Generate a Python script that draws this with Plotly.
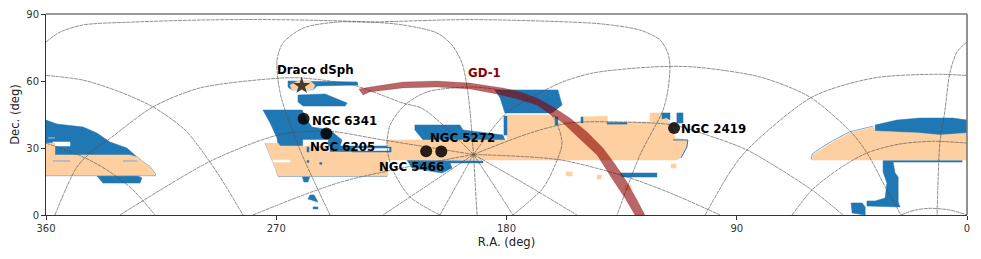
import plotly.graph_objects as go

# ---------- footprint: blue (lower layer)
b_left_ra = [360, 355.7, 345.5, 340.1, 335, 328.4, 324.4, 360]
b_left_dec = [42.5, 40.7, 39.4, 36.7, 32.7, 30, 26, 26]
b_low_ra = [340.1, 337.7, 323.3, 322.5, 324]
b_low_dec = [17.5, 14.3, 14.3, 16.6, 17.5]
b_center_ra = [275.2, 259.9, 258, 256, 249, 244.3, 245, 269.3, 269.7, 272.4]
b_center_dec = [47, 47, 42.5, 39.4, 38.1, 33.6, 30.9, 30.9, 34.5, 41.2]
b_tail_ra = [249, 226.7, 226.7, 249]
b_tail_dec = [30.9, 30.9, 28.2, 28.2]
b_m3_ra = [215.8, 198.2, 197, 181.4, 180.6, 212.6, 215.8]
b_m3_dec = [40.3, 40.3, 38.1, 35.8, 33.6, 33.6, 38.1]
b_5466_ra = [218.9, 189.2, 189.2, 202.1, 201.3, 205.2, 216.9]
b_5466_dec = [24.6, 24.2, 23.3, 23.3, 21, 18.8, 21]
b_gd1_ra = [184.5, 159.9, 158.3, 162.2, 180.6, 182.5]
b_gd1_dec = [56, 56, 49.3, 45.7, 45.7, 52.4]
b_strip_ra = [135.6, 121.2, 121.2, 134.8]
b_strip_dec = [18.8, 18.8, 17, 17]
b_east_ra = [35.9, 27.4, 18.4, 5.5, 0, 0, 35.9]
b_east_dec = [40.3, 42.5, 43.4, 43.4, 42.5, 35.8, 35.8]
b_thin_ra = [32.8, 1.9, 1.9, 32.8]
b_thin_dec = [24.4, 24.4, 23.7, 23.7]
b_vert_ra = [32.8, 28.9, 28.1, 26.9, 26.9, 26.2, 39.1, 39.1, 35.9, 32, 31.3, 32.8]
b_vert_dec = [23.7, 23.7, 18.8, 17, 5.8, 3.6, 4, 6.3, 6.3, 7.6, 14.3, 19.3]
b_foot_ra = [45.3, 41, 39.8, 39.8, 44.9]
b_foot_dec = [5.4, 5.4, 3.6, 0, 0.9]
b_draco_ra = [265.4, 238.4, 238, 254.1, 255.6, 263.8, 265.4]
b_draco_dec = [60, 59.6, 58.2, 57.8, 56, 56, 57.3]
b_blob2_ra = [261.5, 250.9, 242.3, 243.1, 259.5, 261.5]
b_blob2_dec = [53.7, 54.2, 50.1, 48.8, 48.8, 50.6]
b_under_ra = [259.9, 256.8, 257.6, 259.2]
b_under_dec = [17.5, 17.5, 14.8, 14.8]
b_spot1_ra = [256.8, 255.2, 253.7, 257.6]
b_spot1_dec = [9, 9, 5.8, 7.2]
b_spot2_ra = [255.6, 253.7, 253.7, 255.6]
b_spot2_dec = [3.6, 3.6, 2.7, 2.7]

# ---------- holes in the blue
w_left_ra = [357.3, 350.6, 350.6, 357.3]
w_left_dec = [32.7, 32.7, 30.9, 30.9]
w_center_ra = [259.5, 249.8, 249.8, 259.5]
w_center_dec = [33.6, 33.6, 30.9, 30.9]

# ---------- footprint: orange (upper layer)
o_left_ra = [360, 356.5, 356.5, 327.2, 324.4, 322.1, 319.3, 317.4, 317.4, 360]
o_left_dec = [32.2, 32.2, 26.9, 26.9, 26, 23.7, 21.5, 18.3, 17.9, 17.9]
o_main_ra = [274.4, 272.4, 270.5, 269.3, 226.7, 226.7, 113.4, 112.2, 109.5, 109.5, 114.1, 115.3,
             116.9, 118.8, 123.9, 123.9, 140.3, 140.7, 150.5, 151.3, 160.3, 161, 179.8, 179.8,
             226.7, 226.7, 250.2, 250.2, 268.5, 269.3]
o_main_dec = [32.2, 26.9, 21.5, 17.5, 17.5, 24.6, 24.6, 25.5, 30.4, 33.6, 34.5, 40.3,
              42.5, 45.7, 45.7, 41.6, 41.6, 44.3, 43.9, 41.6, 41.6, 44.8, 44.8, 33.6,
              33.6, 28.2, 28.2, 30.9, 30.9, 32.2]
o_east_ra = [60.6, 60.2, 56.7, 52.4, 45.7, 36.7, 35.9, 18.4, 10.6, 0, 0]
o_east_dec = [24.6, 26.9, 29.6, 32.7, 36.7, 39.4, 37.6, 36.7, 35.8, 36.7, 24.6]
o_draco_ra = [263.8, 255.6, 254.9, 256.8, 261.5, 264.6]
o_draco_dec = [56, 56, 58.2, 60, 60, 58.2]
o_dot1_ra = [156.7, 154.3, 154.3, 156.7]
o_dot1_dec = [19.3, 19.3, 17.5, 17.5]
o_dot2_ra = [144.6, 143, 143, 144.6]
o_dot2_dec = [17.9, 17.9, 16.1, 16.1]
o_dot3_ra = [115.7, 113.7, 113.7, 115.7]
o_dot3_dec = [22.8, 22.8, 21, 21]
o_dot4_ra = [133.7, 131.3, 131.3, 133.7]
o_dot4_dec = [13.4, 13.4, 11.2, 11.2]

# ---------- blue details on top of the orange
d_slit_ra = [240.4, 225.1, 225.1, 240.4]
d_slit_dec = [30.4, 30.4, 28.2, 28.2]
d_slit_in_ra = [239.6, 225.9, 225.9, 239.6]
d_slit_in_dec = [29.8, 29.8, 28.9, 28.9]
d1_ra = [181, 179.8, 179.8, 181]
d1_dec = [44.3, 44.3, 35.8, 35.8]
d2_ra = [161, 159.9, 159.9, 161]
d2_dec = [43.9, 43.9, 40.3, 40.3]
d3_ra = [150.9, 150.1, 150.1, 150.9]
d3_dec = [43.9, 43.9, 41.2, 41.2]
d4_ra = [140.7, 132.9, 132.9, 140.7]
d4_dec = [41.4, 41.4, 40.7, 40.7]
d5_ra = [119.2, 116.1, 116.1, 117.5, 119.2]
d5_dec = [45.7, 45.7, 42.5, 43.5, 43]
d6_ra = [113.4, 111, 111, 113.4]
d6_dec = [45.7, 45.7, 41.2, 41.2]
d7_ra = [258, 257.2, 257.2, 258]
d7_dec = [30.4, 30.4, 28.2, 28.2]
d8_ra = [258, 257.2, 257.2, 258]
d8_dec = [24.4, 24.4, 23.6, 23.6]
d9_ra = [253, 252.2, 252.2, 253]
d9_dec = [23.5, 23.5, 22.7, 22.7]

# ---------- white gaps and pale streaks inside the footprint
g_slit_ra = [271.3, 264.6, 264.6, 271.3]
g_slit_dec = [24.6, 24.6, 23.7, 23.7]
s1_ra = [357.3, 350.6]
s1_dec = [24.2, 24.2]
s2_ra = [329.9, 324.4]
s2_dec = [24.2, 24.2]
s3_ra = [359.2, 356.5]
s3_dec = [34.5, 34.5]

# ---------- thin edges
e_main_ra = [274.4, 272.4, 270.5, 269.3, 226.7, 226.7]
e_main_dec = [32.2, 26.9, 21.5, 17.3, 17.3, 24]
e_left_ra = [360, 317.2]
e_left_dec = [17.6, 17.6]
e_lefttop_ra = [324.4, 322.1, 319.3, 317.2, 317.4]
e_lefttop_dec = [26.2, 23.9, 21.7, 18.5, 17.6]
e_right_ra = [114.9, 109.1, 109.5, 111.8]
e_right_dec = [33.6, 33.6, 30.4, 25.5]
e_east_ra = [60.9, 60.5, 57, 52.6, 45.9, 36.7]
e_east_dec = [24.8, 27.3, 30.1, 33.2, 37.2, 39.8]

# ---------- GD-1 stream outline
gd1_ra = [237.7, 233.4, 220.5, 207.2, 194.3, 181.4, 174.7, 168.1, 161.8, 155.2, 148.5, 142.3,
          137.6, 132.9, 129.4, 125.9,
          129.8, 133.7, 138.4, 141.5, 144.6, 151.3, 157.9, 163, 168.1, 175.9, 183.7, 194.3,
          207.2, 220.5, 233.4, 236.1]
gd1_dec = [56.4, 57.3, 59.6, 60, 59.1, 56.9, 55.1, 52.4, 48.4, 43.4, 37.2, 30,
           22.8, 14.8, 7.6, 0,
           0, 7.6, 15.7, 21.5, 26.9, 34, 41.2, 45.2, 49.3, 52, 54.2, 56.4,
           57.3, 56.9, 55.1, 53.7]

# ---------- Galactic graticule
m1a_ra = [360, 354.5, 345.5, 326, 299.8, 272.4, 233.4, 220.5, 207.2, 201.3, 197.4, 195.4, 194.3, 192.9]
m1a_dec = [77.5, 81.9, 85.1, 86.4, 87.3, 87.5, 86.4, 85.1, 81.5, 76.1, 68.1, 57.3, 47, 27.1]
m1b_ra = [0, 3.9, 6.7, 8.6, 10.6, 11.3, 11.7]
m1b_dec = [77.5, 73, 63.6, 47, 32.2, 15.7, 0]
m2_ra = [192.9, 183.7, 178.6, 159.1, 146.2, 122.7, 107.1, 80.9, 61.4, 45, 39.1, 31.3, 25.8]
m2_dec = [27.1, 41.2, 47, 59.1, 63.6, 66.3, 66.3, 61.8, 52.8, 36.7, 27.8, 11.2, 0]
m3_ra = [192.9, 170.8, 155.2, 132.9, 114.9, 101.6, 86, 60.6, 48.5]
m3_dec = [27.1, 36.7, 41.2, 41.6, 40.3, 35.8, 29.1, 11.2, 0]
m4_ra = [192.9, 159.1, 132.9, 116.1, 96.5]
m4_dec = [27.1, 24.7, 17, 9.9, 0]
m5_ra = [192.9, 172, 152.5]
m5_dec = [27.1, 13.4, 0]
m6_ra = [192.9, 185, 177.5]
m6_dec = [27.1, 13.4, 0]
m7_ra = [192.9, 191.5]
m7_dec = [27.1, 0]
m8_ra = [192.9, 199.5, 206]
m8_dec = [27.1, 13.4, 0]
m9_ra = [192.9, 210.7, 228.3]
m9_dec = [27.1, 13.4, 0]
m10_ra = [192.9, 244.6, 279.1]
m10_dec = [27.1, 14.8, 0]
m11_ra = [192.9, 228.3, 250.2, 267.4, 279.1, 297.1, 331.1]
m11_dec = [27.1, 33.6, 37.6, 36.3, 32.2, 23.3, 0]
m12_ra = [192.9, 212.6, 220.5, 240, 259.5, 268.5, 299.8, 318.2, 335.8, 340.1, 347.9, 356.5]
m12_dec = [27.1, 47.5, 50.1, 58.2, 61.3, 61.3, 56.9, 48.4, 33.6, 30.4, 21.5, 0]
p30_ra = [249, 260.7, 267.8, 269.3, 269.7, 267.4, 259.5, 246.3, 233.4, 194.3, 155.2, 142.3,
          127.8, 120, 116.9, 116.1, 116.9, 118.8, 127.8, 136.8]
p30_dec = [0, 29.1, 51.5, 60.4, 69.4, 77, 83.7, 86.4, 86.4, 87.5, 86.4, 85.5,
           82.8, 78.4, 72.5, 66.3, 56, 47, 26.9, 0]
p60_ra = [206, 217.7, 224.4, 226.7, 225.5, 219.7, 211.1, 192.7, 177.5, 166.9, 161, 158.3, 161, 165.7, 177.5]
p60_dec = [0, 8.1, 20.1, 30.4, 40.3, 49.3, 55.1, 57.3, 54.6, 49.3, 42.5, 32.2, 22.4, 12.1, 0]
p0a_ra = [360, 345.5, 331.1, 318.2, 305.7, 295.9, 290, 283]
p0a_dec = [62.5, 60.4, 55.1, 48.4, 38.1, 23.7, 13.4, 0]
p0b_ra = [102.4, 92.6, 86, 60.6, 36.7, 12.9, 0]
p0b_dec = [0, 19.3, 29.1, 52.8, 61.3, 63, 62.5]
n30a_ra = [68.4, 60.6, 49.6, 39.1, 26.2, 12.9, 0]
n30a_dec = [0, 11.2, 21, 27.8, 31.8, 33, 32.2]
n30b_ra = [360, 345.5, 335, 326, 317.4]
n30b_dec = [32.2, 26, 19.3, 11.2, 0]
n60_ra = [25.8, 20.3, 14.5, 6.6, 0]
n60_dec = [0, 2.2, 3, 2.2, 0]

# ---------- objects
cluster_names = ["NGC 6341", "NGC 6205", "NGC 5272", "NGC 5466", "NGC 2419"]
cluster_ra = [259.3, 250.4, 205.5, 211.4, 114.5]
cluster_dec = [43.1, 36.5, 28.4, 28.5, 38.9]
label_ra = [256.7, 257.5, 210.6, 230.6, 112.5]
label_dec = [42.2, 30.3, 34.6, 21.5, 38.5]
draco_ra = [260.05]
draco_dec = [57.9]
draco_label = "Draco dSph"
draco_label_ra = [270.4]
draco_label_dec = [65]
gd1_label = "GD-1"
gd1_label_ra = [195.8]
gd1_label_dec = [63.4]

x_ticks = [360, 270, 180, 90, 0]
y_ticks = [0, 30, 60, 90]

BLUE = "#1f77b4"
ORANGE = "#fdcfa1"
EDGE = "#7aa8d0"
GRID = "rgba(80,80,80,0.8)"
FONT = "DejaVu Sans"

fig = go.Figure()


def area(ra, dec, color, line=None):
    fig.add_trace(go.Scatter(x=ra + ra[:1], y=dec + dec[:1], mode="lines", fill="toself",
                             fillcolor=color, line=dict(color=line or color, width=0.5),
                             hoverinfo="skip", showlegend=False))


def edge(ra, dec, color=EDGE, width=1):
    fig.add_trace(go.Scatter(x=ra, y=dec, mode="lines", line=dict(color=color, width=width),
                             hoverinfo="skip", showlegend=False))


for ra, dec in [(b_left_ra, b_left_dec), (b_low_ra, b_low_dec), (b_center_ra, b_center_dec),
                (b_tail_ra, b_tail_dec), (b_m3_ra, b_m3_dec), (b_5466_ra, b_5466_dec),
                (b_gd1_ra, b_gd1_dec), (b_strip_ra, b_strip_dec), (b_east_ra, b_east_dec),
                (b_thin_ra, b_thin_dec), (b_vert_ra, b_vert_dec), (b_foot_ra, b_foot_dec),
                (b_draco_ra, b_draco_dec), (b_blob2_ra, b_blob2_dec), (b_under_ra, b_under_dec),
                (b_spot1_ra, b_spot1_dec), (b_spot2_ra, b_spot2_dec)]:
    area(ra, dec, BLUE)
for ra, dec in [(w_left_ra, w_left_dec), (w_center_ra, w_center_dec)]:
    area(ra, dec, "white")
edge(s3_ra, s3_dec, "#a8c8e0", 1)
for ra, dec in [(e_main_ra, e_main_dec), (e_left_ra, e_left_dec), (e_lefttop_ra, e_lefttop_dec),
                (e_east_ra, e_east_dec)]:
    edge(ra, dec)
for ra, dec in [(o_left_ra, o_left_dec), (o_main_ra, o_main_dec), (o_east_ra, o_east_dec),
                (o_draco_ra, o_draco_dec), (o_dot1_ra, o_dot1_dec), (o_dot2_ra, o_dot2_dec),
                (o_dot3_ra, o_dot3_dec), (o_dot4_ra, o_dot4_dec)]:
    area(ra, dec, ORANGE)
for ra, dec in [(d_slit_ra, d_slit_dec), (d1_ra, d1_dec), (d2_ra, d2_dec), (d3_ra, d3_dec),
                (d4_ra, d4_dec), (d5_ra, d5_dec), (d6_ra, d6_dec), (d7_ra, d7_dec),
                (d8_ra, d8_dec), (d9_ra, d9_dec)]:
    area(ra, dec, BLUE)
area(d_slit_in_ra, d_slit_in_dec, "white")
area(g_slit_ra, g_slit_dec, "white")
edge(s1_ra, s1_dec, EDGE, 1)
edge(s2_ra, s2_dec, EDGE, 1)
edge(e_right_ra, e_right_dec, BLUE, 1)

for ra, dec in [(m1a_ra, m1a_dec), (m1b_ra, m1b_dec), (m2_ra, m2_dec), (m3_ra, m3_dec),
                (m4_ra, m4_dec), (m5_ra, m5_dec), (m6_ra, m6_dec), (m7_ra, m7_dec),
                (m8_ra, m8_dec), (m9_ra, m9_dec), (m10_ra, m10_dec), (m11_ra, m11_dec),
                (m12_ra, m12_dec), (p30_ra, p30_dec), (p60_ra, p60_dec), (p0a_ra, p0a_dec),
                (p0b_ra, p0b_dec), (n30a_ra, n30a_dec), (n30b_ra, n30b_dec), (n60_ra, n60_dec)]:
    fig.add_trace(go.Scatter(x=ra, y=dec, mode="lines",
                             line=dict(color=GRID, width=0.8, dash="4px,0.7px", shape="spline", smoothing=0.8),
                             hoverinfo="skip", showlegend=False))

area(gd1_ra, gd1_dec, "rgba(139,0,0,0.6)", "rgba(139,0,0,0.35)")

fig.add_trace(go.Scatter(x=cluster_ra, y=cluster_dec, mode="markers",
                         marker=dict(color="rgba(0,0,0,0.85)", size=12, line=dict(width=0)),
                         hoverinfo="skip", showlegend=False))
fig.add_trace(go.Scatter(x=draco_ra, y=draco_dec, mode="markers",
                         marker=dict(color="rgba(0,0,0,0.72)", size=13, symbol="star", line=dict(width=0)),
                         hoverinfo="skip", showlegend=False))


def label(ra, dec, text, color="black"):
    fig.add_annotation(x=ra, y=dec, text=f"<b>{text}</b>", showarrow=False, xanchor="left",
                       yanchor="middle", font=dict(family=FONT, size=11.8, color=color))


for name, ra, dec in zip(cluster_names, label_ra, label_dec):
    label(ra, dec, name)
label(draco_label_ra[0], draco_label_dec[0], draco_label)
label(gd1_label_ra[0], gd1_label_dec[0], gd1_label, "darkred")

axis_common = dict(showgrid=False, zeroline=False, showline=True, mirror=False, linecolor="#333333",
                   linewidth=1, ticks="outside", ticklen=4, tickwidth=1, tickcolor="#333333",
                   automargin=False, tickfont=dict(family=FONT, size=10, color="#333333"))
fig.update_xaxes(range=[360, 0], tickvals=x_ticks, ticktext=[str(v) for v in x_ticks],
                 title=dict(text="R.A. (deg)", font=dict(family=FONT, size=11.6, color="#222222"), standoff=4),
                 **axis_common)
fig.update_yaxes(range=[0, 90], tickvals=y_ticks, ticktext=[str(v) for v in y_ticks],
                 title=dict(text="Dec. (deg)", font=dict(family=FONT, size=11.6, color="#222222"), standoff=4),
                 **axis_common)
fig.add_shape(type="line", xref="paper", yref="paper", x0=0, x1=1, y0=1, y1=1,
              line=dict(color="#777777", width=1.6))
fig.add_shape(type="line", xref="paper", yref="paper", x0=1, x1=1, y0=0, y1=1,
              line=dict(color="#777777", width=1.6))
fig.update_layout(width=981, height=259, margin=dict(l=46, r=14, t=14, b=44),
                  paper_bgcolor="white", plot_bgcolor="white", showlegend=False)
fig.write_html("out.html", config={"displayModeBar": False},
               post_script="document.body.style.margin='0';document.body.style.overflow='hidden';")
